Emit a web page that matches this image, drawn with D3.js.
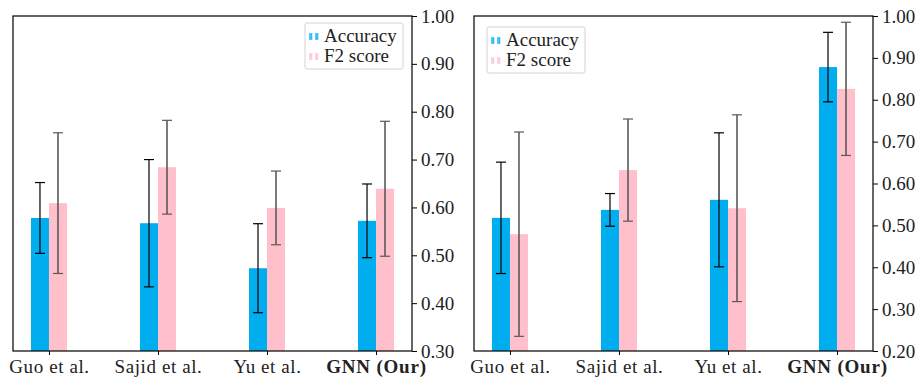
<!DOCTYPE html>
<html>
<head>
<meta charset="utf-8">
<script src="https://cdn.jsdelivr.net/npm/d3@7"></script>
<style>
  body{margin:0;background:#fff;}
  svg text{font-family:"Liberation Serif","Tinos","DejaVu Serif",serif !important;}
</style>
</head>
<body>
<div id="chart"></div>
<script>
// data
var methods = ["Guo et al.","Sajid et al.","Yu et al.","GNN (Our)"];
var seriesNames = ["Accuracy","F2 score"];

// left panel
var accLeft    = [0.578, 0.567, 0.473, 0.572];
var accLeftErr = [0.074, 0.133, 0.093, 0.077];
var f2Left     = [0.609, 0.684, 0.599, 0.639];
var f2LeftErr  = [0.147, 0.098, 0.077, 0.141];
var ticksLeft  = [0.30,0.40,0.50,0.60,0.70,0.80,0.90,1.00];

// right panel
var accRight    = [0.518, 0.537, 0.561, 0.878];
var accRightErr = [0.133, 0.039, 0.160, 0.083];
var f2Right     = [0.479, 0.632, 0.541, 0.826];
var f2RightErr  = [0.244, 0.122, 0.223, 0.159];
var ticksRight  = [0.20,0.30,0.40,0.50,0.60,0.70,0.80,0.90,1.00];

var colors = ["#00adef","#ffc0cb"];
var errColors = ["#000","#5a5a5a"];

var svg = d3.select("#chart").append("svg")
            .attr("width",917)
            .attr("height",380);

function drawPanel(offx, acc, accErr, f2, f2Err, yTicks, legendX, legendY){
  var w = 399, top = 16, bottom = 351, barW = 18;
  var g = svg.append("g").attr("transform","translate("+offx+",0)");

  var x = d3.scalePoint().domain(methods).range([0,w]).padding(0.33);
  var y = d3.scaleLinear().domain([yTicks[0],1.0]).range([bottom,top]);

  var series = [{vals:acc,err:accErr,dx:-barW},{vals:f2,err:f2Err,dx:0}];

  series.forEach(function(s,si){
    g.selectAll(".bar"+si)
      .data(methods)
      .enter().append("rect")
      .attr("class","bar"+si)
      .attr("x",function(d){return x(d)+s.dx;})
      .attr("width",barW)
      .attr("y",function(d,i){return y(s.vals[i]);})
      .attr("height",function(d,i){return bottom-y(s.vals[i]);})
      .attr("fill",colors[si]);
  });

  series.forEach(function(s,si){
    var eg = g.selectAll(".err"+si)
      .data(methods)
      .enter().append("g")
      .attr("class","err"+si)
      .attr("stroke",errColors[si])
      .attr("stroke-width",si==0?1.2:1.6);
    eg.append("line")
      .attr("x1",function(d){return x(d)+s.dx+barW/2;})
      .attr("x2",function(d){return x(d)+s.dx+barW/2;})
      .attr("y1",function(d,i){return y(s.vals[i]+s.err[i]);})
      .attr("y2",function(d,i){return y(s.vals[i]-s.err[i]);});
    [1,-1].forEach(function(sg){
      eg.append("line")
        .attr("x1",function(d){return x(d)+s.dx+barW/2-5;})
        .attr("x2",function(d){return x(d)+s.dx+barW/2+5;})
        .attr("y1",function(d,i){return y(s.vals[i]+sg*s.err[i]);})
        .attr("y2",function(d,i){return y(s.vals[i]+sg*s.err[i]);})
        .attr("stroke-width",1.2);
    });
  });

  // frame
  g.append("rect")
    .attr("x",0).attr("y",top)
    .attr("width",w).attr("height",bottom-top)
    .attr("fill","none").attr("stroke","#000").attr("stroke-width",1.2);

  var ya = g.append("g")
    .attr("transform","translate("+w+",0)")
    .call(d3.axisRight(y).tickValues(yTicks).tickFormat(d3.format(".2f")).tickSize(5).tickPadding(4));
  ya.select(".domain").remove();
  ya.attr("font-family",null);
  ya.selectAll("text").attr("font-size",19).attr("fill","#222");

  var xa = g.append("g")
    .attr("transform","translate(0,"+bottom+")")
    .call(d3.axisBottom(x).tickSize(4).tickPadding(5));
  xa.select(".domain").remove();
  xa.attr("font-family",null);
  xa.selectAll("text")
    .attr("font-size",19).attr("fill","#222")
    .attr("font-weight",function(d){return d=="GNN (Our)"?"bold":"normal";})
    .attr("letter-spacing",function(d){return d=="GNN (Our)"?"0.8px":"0.6px";});

  // legend
  var lg = g.append("g").attr("transform","translate("+legendX+","+legendY+")");
  lg.append("rect")
    .attr("width",98).attr("height",46).attr("rx",2)
    .attr("fill","#fff").attr("fill-opacity",0.85)
    .attr("stroke","#d4d4d4").attr("stroke-width",1);
  seriesNames.forEach(function(n,i){
    [0,6].forEach(function(dx){
      lg.append("rect")
        .attr("x",4.5+dx).attr("y",10.5+i*20)
        .attr("width",2.5).attr("height",6)
        .attr("fill",colors[i]).attr("fill-opacity",0.75)
        .attr("stroke",colors[i]).attr("stroke-opacity",0.5).attr("stroke-width",1);
    });
    lg.append("text")
      .attr("x",19).attr("y",19+i*20)
      .attr("font-size",19).attr("fill","#222")
      .text(n);
  });
}

drawPanel(13, accLeft, accLeftErr, f2Left, f2LeftErr, ticksLeft, 292, 23);
drawPanel(474, accRight, accRightErr, f2Right, f2RightErr, ticksRight, 13, 27);
</script>
</body>
</html>
